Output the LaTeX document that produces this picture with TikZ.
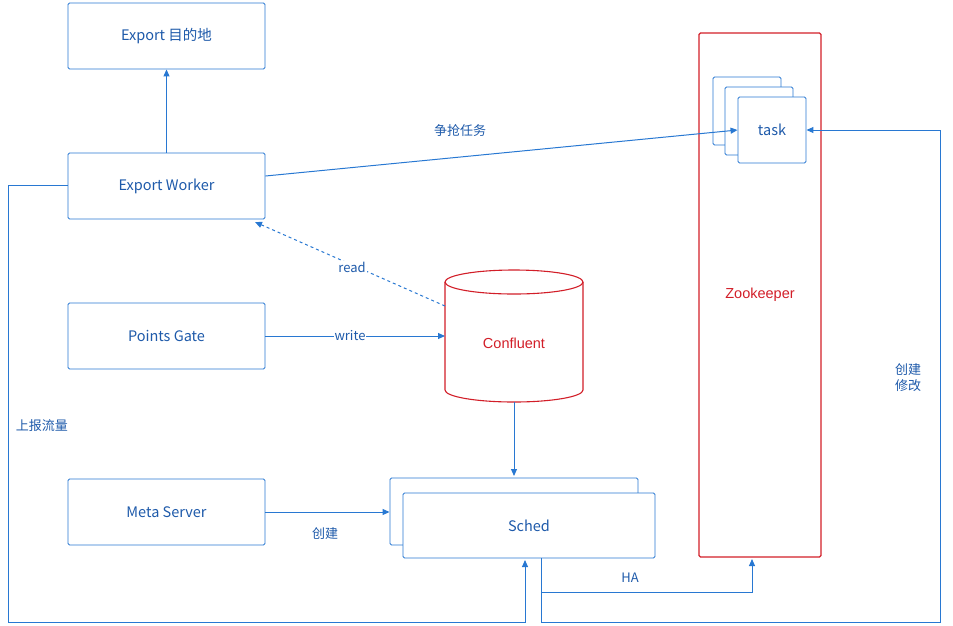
\documentclass[tikz,border=0pt]{standalone}
\usepackage{fontspec}
\setmainfont{Liberation Sans}
\newfontfamily\cjk{Noto Sans CJK SC}
\usetikzlibrary{arrows.meta}
\definecolor{bl}{RGB}{40,120,210}
\definecolor{tx}{RGB}{30,90,170}
\definecolor{rd}{RGB}{210,30,40}
\begin{document}
\begin{tikzpicture}[x=1pt,y=-1pt,
  box/.style={draw=bl,fill=white,line width=0.9pt,rounded corners=1.5pt,text=tx,font=\fontsize{14.5}{16}\selectfont\cjk},
  con/.style={draw=bl,line width=1pt,-{Triangle[length=7pt,width=6pt]}},
  lab/.style={text=tx,font=\fontsize{13}{16}\selectfont\cjk}]
\useasboundingbox (0,0) rectangle (953,625);
\node[box,minimum width=197pt,minimum height=66pt] (dest) at (166.5,36) {Export 目的地};
\node[box,minimum width=197pt,minimum height=66pt] (worker) at (166.5,186) {Export Worker};
\node[box,minimum width=197pt,minimum height=66pt] (gate) at (166.5,336) {Points Gate};
\node[box,minimum width=197pt,minimum height=66pt] (meta) at (166.5,512) {Meta Server};
% zookeeper
\node[draw=rd,line width=1.2pt,rounded corners=1.5pt,minimum width=122pt,minimum height=524pt,text=rd,font=\fontsize{14.5}{16}\selectfont] (zk) at (760,295) {Zookeeper};
\node[box,minimum width=68pt,minimum height=68pt] (t1) at (747,111) {};
\node[box,minimum width=68pt,minimum height=68pt] (t2) at (759,121) {};
\node[box,minimum width=68pt,minimum height=66pt] (task) at (772,130) {task};
% confluent
\draw[draw=rd,fill=white,line width=1.1pt] (445,282) -- (445,390) arc[start angle=180,end angle=360,x radius=69pt,y radius=12pt] -- (583,282);
\draw[draw=rd,fill=white,line width=1.1pt] (514,282) ellipse[x radius=69pt,y radius=12pt];
\node[text=rd,font=\fontsize{14.5}{16}\selectfont] (conf) at (514,343) {Confluent};
\coordinate (cl) at (445,336);
\coordinate (cb) at (514,402);
\coordinate (cr) at (445,306);
% sched
\node[box,minimum width=248pt,minimum height=67pt] (s1) at (514,511.5) {};
\node[box,minimum width=252pt,minimum height=65pt] (sched) at (529,525.5) {Sched};
% connectors
\draw[con] (worker.north) -- (dest.south);
\draw[con] (worker.east |- 0,176) -- (task.west);
\node[lab] at (460,131) {争抢任务};
\draw[con,dashed] (cr) -- (255,222);
\node[lab,fill=white,inner sep=1pt] at (352,267) {read};
\draw[con] (gate.east) -- (cl);
\node[lab,fill=white,inner sep=1pt] at (350,336) {write};
\draw[con] (cb) -- (514,476);
\draw[con] (meta.east) -- (s1.west |- meta.east);
\node[lab] at (325,534) {创建};
\coordinate (w) at (68,185);
\draw[con] (w) -- (8,185) -- (8,622) -- (525,622) -- (525,560);
\node[lab] at (42,426) {上报流量};
\draw[con] (541,558) -- (541,592) -- (752,592) -- (752,559);
\node[lab] at (630,578) {HA};
\draw[con] (541,592) -- (541,622) -- (940,622) -- (940,130) -- (task.east);
\node[lab,align=center] at (908,378) {创建\\修改};
\end{tikzpicture}
\end{document}
